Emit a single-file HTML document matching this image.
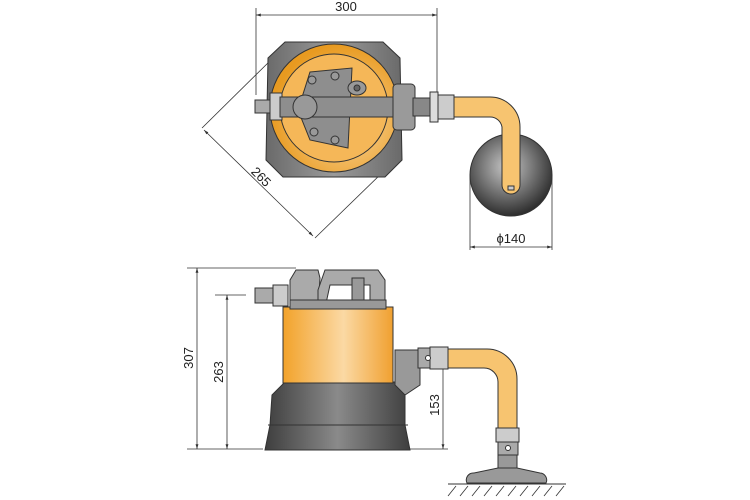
<!DOCTYPE html>
<html><head><style>
html,body{margin:0;padding:0;background:#fff;}
svg{display:block;}
text{font-family:"Liberation Sans",sans-serif;font-size:13px;fill:#222;}
</style></head><body>
<svg width="750" height="500" viewBox="0 0 750 500" xmlns="http://www.w3.org/2000/svg">
<defs>
<linearGradient id="og" x1="0" x2="1"><stop offset="0" stop-color="#f2a22a"/><stop offset="0.55" stop-color="#fbd9a4"/><stop offset="1" stop-color="#f0a030"/></linearGradient>
<linearGradient id="dg" x1="0" x2="1"><stop offset="0" stop-color="#3e3e3e"/><stop offset="0.5" stop-color="#8a8a8a"/><stop offset="1" stop-color="#3e3e3e"/></linearGradient>
<linearGradient id="tg" x1="0" x2="1"><stop offset="0" stop-color="#6a6a6a"/><stop offset="0.5" stop-color="#9a9a9a"/><stop offset="1" stop-color="#6a6a6a"/></linearGradient>
<radialGradient id="ball" cx="0.45" cy="0.4" r="0.6"><stop offset="0" stop-color="#c8c8c8"/><stop offset="1" stop-color="#2e2e2e"/></radialGradient>
<radialGradient id="ring" cx="0.6" cy="0.6" r="0.6"><stop offset="0" stop-color="#fbd8a0"/><stop offset="1" stop-color="#e89a20"/></radialGradient>
<marker id="a" viewBox="0 0 10 10" refX="10" refY="5" markerWidth="6" markerHeight="6" orient="auto-start-reverse"><path d="M0,2 L10,5 L0,8" fill="#333"/></marker>
</defs>
<g stroke="#333" stroke-width="0.8" fill="none">
<line x1="256" y1="8" x2="256" y2="95"/><line x1="437" y1="8" x2="437" y2="95"/>
<line x1="256" y1="15" x2="437" y2="15" marker-start="url(#a)" marker-end="url(#a)"/>
<line x1="202" y1="128" x2="273" y2="58"/><line x1="315" y1="238" x2="386" y2="169"/>
<line x1="204" y1="130" x2="313" y2="236" marker-start="url(#a)" marker-end="url(#a)"/>
<line x1="470" y1="175" x2="470" y2="250"/><line x1="552" y1="175" x2="552" y2="250"/>
<line x1="470" y1="247" x2="552" y2="247" marker-start="url(#a)" marker-end="url(#a)"/>
<line x1="187" y1="268" x2="296" y2="268"/><line x1="215" y1="295" x2="246" y2="295"/>
<line x1="187" y1="449" x2="263" y2="449"/>
<line x1="197" y1="268" x2="197" y2="449" marker-start="url(#a)" marker-end="url(#a)"/>
<line x1="227" y1="295" x2="227" y2="449" marker-start="url(#a)" marker-end="url(#a)"/>
<line x1="410" y1="449" x2="448" y2="449"/>
<line x1="443" y1="362" x2="443" y2="449" marker-start="url(#a)" marker-end="url(#a)"/>
</g>
<text x="346" y="11" text-anchor="middle">300</text>
<text x="511" y="243" text-anchor="middle">ϕ140</text>
<text transform="translate(258,180) rotate(45)" text-anchor="middle">265</text>
<text transform="translate(193,358) rotate(-90)" text-anchor="middle">307</text>
<text transform="translate(223,372) rotate(-90)" text-anchor="middle">263</text>
<text transform="translate(439,405) rotate(-90)" text-anchor="middle">153</text>

<g stroke="#333" stroke-width="1">
<circle cx="511" cy="175" r="41" fill="url(#ball)"/>
<path d="M268,58 L285,42 L383,42 L400,58 L402,160 L385,177 L283,177 L266,160 Z" fill="url(#tg)"/>
<circle cx="334" cy="108" r="64" fill="url(#ring)"/>
<circle cx="334" cy="108" r="54" fill="#f5b758"/>
<path d="M310,72 L352,68 L348,148 L310,140 L298,110 Z" fill="#8e8e8e"/>
<circle cx="335" cy="76" r="4" fill="#999"/><circle cx="335" cy="140" r="4" fill="#999"/><circle cx="312" cy="80" r="4" fill="#999"/><circle cx="314" cy="132" r="4" fill="#999"/>
<ellipse cx="357" cy="88" rx="9" ry="7" fill="#999"/><circle cx="357" cy="88" r="3" fill="#666"/>
<rect x="255" y="100" width="16" height="13" fill="#aaa"/>
<rect x="270" y="93" width="12" height="27" fill="#ccc"/>
<rect x="280" y="97" width="115" height="20" fill="#8e8e8e"/>
<circle cx="305" cy="107" r="12" fill="#999"/>
<rect x="393" y="84" width="22" height="46" rx="4" fill="#9a9a9a"/>
<rect x="413" y="98" width="17" height="18" fill="#888"/>
<rect x="430" y="92" width="8" height="30" fill="#ddd"/>
<rect x="438" y="95" width="16" height="24" fill="#ccc"/>
<path d="M454,97 L490,97 A30,30 0 0 1 520,127 L520,185 A9,9 0 0 1 502,185 L502,127 A12,12 0 0 0 490,117 L454,117 Z" fill="#f7c470"/>
<rect x="508" y="186" width="6" height="4" fill="#ccc"/>
</g>

<g stroke="#333" stroke-width="1">
<line x1="448" y1="484" x2="566" y2="484"/>
<path d="M272,395 L285,382 L395,382 L405,395 L405,425 L410,450 L265,450 L270,425 Z" fill="url(#dg)"/>
<line x1="268" y1="425" x2="408" y2="425"/>
<rect x="283" y="307" width="110" height="76" fill="url(#og)"/>
<path d="M290,308 L290,280 L296,270 L318,270 L320,278 L318,308 Z" fill="#aaa"/>
<path d="M318,290 L325,270 L378,270 L385,280 L385,305 L370,305 L370,285 L330,285 L325,308 L318,308 Z" fill="#aaa"/>
<rect x="290" y="300" width="96" height="9" fill="#999"/>
<rect x="352" y="278" width="12" height="22" fill="#999"/>
<rect x="255" y="288" width="20" height="15" fill="#aaa"/>
<rect x="273" y="285" width="15" height="21" fill="#ccc"/>
<path d="M395,350 L420,350 L420,385 L405,395 L395,385 Z" fill="#999"/>
<rect x="418" y="348" width="12" height="20" fill="#aaa"/>
<rect x="430" y="347" width="18" height="22" fill="#ccc"/>
<circle cx="428" cy="358" r="2.5" fill="#fff"/>
<path d="M448,349 L487,349 A30,30 0 0 1 517,379 L517,430 L498,430 L498,382 A14,14 0 0 0 484,368 L448,368 Z" fill="#f7c470"/>
<rect x="496" y="428" width="23" height="14" fill="#ccc"/>
<rect x="498" y="442" width="20" height="13" fill="#aaa"/>
<circle cx="508" cy="448" r="2.5" fill="#fff"/>
<rect x="498" y="455" width="19" height="13" fill="#999"/>
<path d="M498,468 L517,468 L540,473 A7,7 0 0 1 546,483 L467,483 A7,7 0 0 1 474,473 Z" fill="#999"/>
</g>
<g stroke="#333" stroke-width="0.8">
<line x1="456" y1="486" x2="448" y2="496"/><line x1="468" y1="486" x2="460" y2="496"/><line x1="480" y1="486" x2="472" y2="496"/><line x1="492" y1="486" x2="484" y2="496"/><line x1="504" y1="486" x2="496" y2="496"/><line x1="516" y1="486" x2="508" y2="496"/><line x1="528" y1="486" x2="520" y2="496"/><line x1="540" y1="486" x2="532" y2="496"/><line x1="552" y1="486" x2="544" y2="496"/><line x1="564" y1="486" x2="556" y2="496"/>
</g>
</svg>
</body></html>
